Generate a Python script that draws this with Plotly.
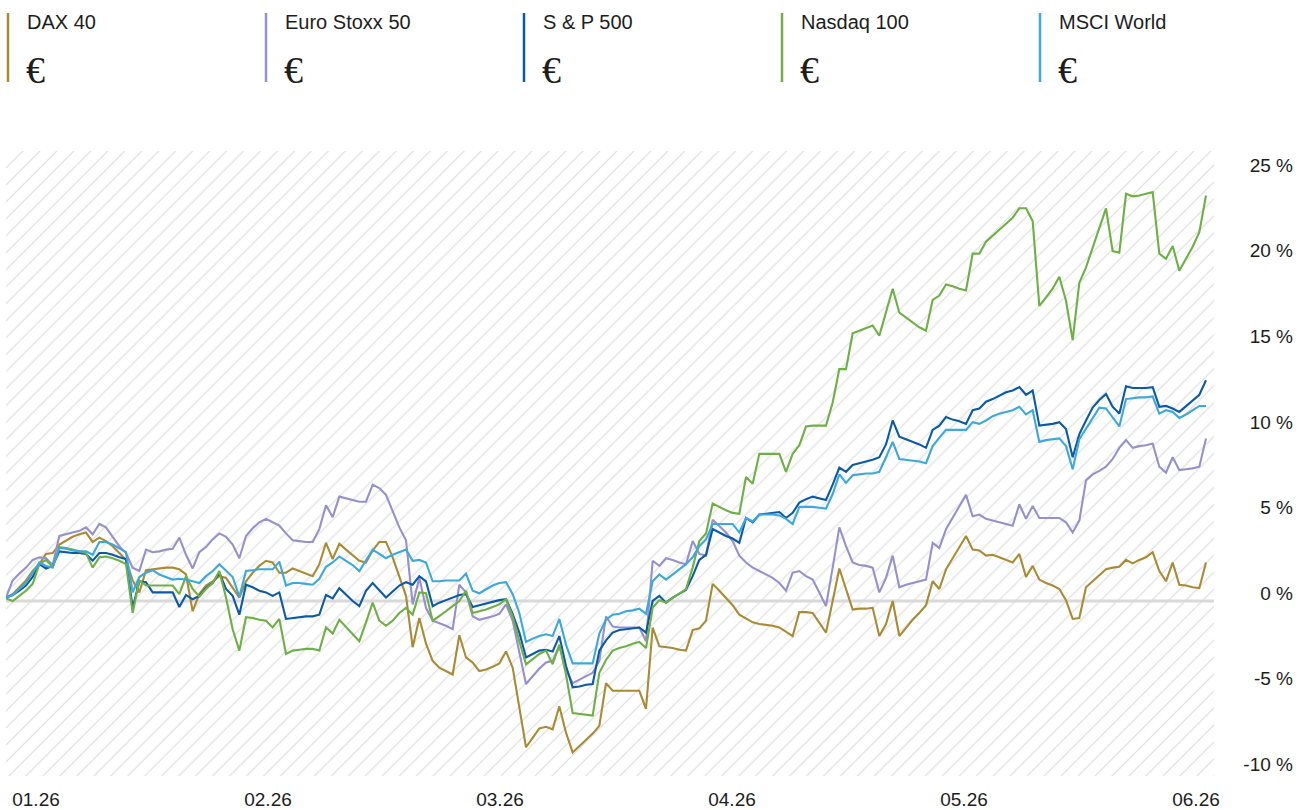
import plotly.graph_objects as go

# ---------------- data ----------------
names = ["DAX 40", "Euro Stoxx 50", "S & P 500", "Nasdaq 100", "MSCI World"]
colors = ["#a98b35", "#9691cd", "#0b5aa5", "#6eaf46", "#3ca8dc"]
currency = ["€", "€", "€", "€", "€"]

dax = [0.2, 0.4, 0.8, 1.2, 1.75, 2.15, 2.75, 2.8, 3.3, 3.55, 3.75, 3.9, 4.0, 3.45, 3.7, 3.5, 3.2, 2.8, 2.4, 1.2,
       0.5, 1.8, 1.85, 1.9, 1.95, 1.95, 1.85, 1.55, -0.6, 0.4, 0.9, 1.15, 1.45, 1.35, 0.8, 0.2, 1.15, 1.65, 2.05, 2.35,
       2.25, 1.65, 1.65, 1.9, 1.75, 1.6, 1.45, 2.15, 3.4, 2.45, 3.35, 3.0, 2.7, 2.35, 2.25, 2.95, 3.45, 3.45, 2.55, 1.4,
       0.3, -2.7, -1.0, -2.5, -3.5, -3.9, -4.1, -4.3, -2.0, -3.3, -3.6, -4.1, -4.0, -3.85, -3.65, -2.95, -3.9, -6.2, -8.55, -8.0,
       -7.45, -7.35, -7.5, -6.15, -7.7, -8.85, -8.5, -8.1, -7.75, -7.3, -4.8, -5.25, -5.25, -5.25, -5.25, -5.25, -6.3, -1.55, -2.65, -2.7,
       -2.75, -2.85, -2.9, -1.7, -1.6, -1.15, 1.0, 0.6, 0.15, -0.25, -0.8, -1.05, -1.25, -1.35, -1.4, -1.45, -1.55, -1.8, -2.05, -0.65,
       -0.65, -0.7, -1.25, -1.85, 0.0, 1.9, 0.7, -0.5, -0.45, -0.45, -0.4, -2.05, -1.35, 0.0, -2.05, -1.55, -1.1, -0.7, -0.25, 1.15,
       0.7, 1.85, 2.5, 3.15, 3.8, 3.0, 2.95, 2.65, 2.7, 2.55, 2.4, 2.25, 2.75, 1.4, 2.05, 1.25, 1.05, 0.9, 0.7, 0.05,
       -1.05, -1.0, 0.8, 1.15, 1.5, 1.85, 1.95, 2.0, 2.4, 2.2, 2.4, 2.55, 2.85, 1.75, 1.15, 2.25, 0.95, 0.9, 0.8, 0.75,
       2.25]

euro_stoxx = [0.2, 1.2, 1.6, 1.95, 2.4, 2.55, 2.5, 2.1, 3.8, 3.9, 4.0, 4.1, 4.3, 3.9, 4.5, 4.3, 3.75, 3.2, 2.8, 1.95,
              1.75, 3.0, 2.85, 2.9, 3.0, 3.05, 3.7, 2.7, 1.9, 2.85, 3.15, 3.6, 3.95, 3.75, 3.3, 2.5, 3.8, 4.25, 4.6, 4.8,
              4.6, 4.4, 3.95, 3.55, 3.5, 3.45, 3.45, 4.2, 5.6, 4.9, 6.1, 6.0, 5.9, 5.8, 5.8, 6.8, 6.6, 6.2, 5.25, 4.3,
              3.55, -0.2, 1.35, -0.4, -1.15, -1.3, -1.45, -1.65, 0.95, 0.5, -0.9, -1.1, -1.0, -0.9, -0.75, -0.2, -1.15, -3.1, -4.85, -4.4,
              -3.95, -3.6, -3.5, -2.65, -4.0, -4.8, -4.6, -4.4, -4.2, -3.5, -0.9, -1.5, -1.55, -1.55, -1.55, -1.55, -2.35, 2.35, 2.05, 2.5,
              2.4, 2.25, 2.15, 3.5, 2.75, 2.65, 4.75, 4.4, 4.0, 3.5, 2.65, 2.25, 1.95, 1.75, 1.55, 1.35, 1.05, 0.6, 1.65, 1.75,
              1.45, 1.25, 0.5, -0.3, 1.95, 4.3, 3.2, 2.25, 2.1, 2.05, 1.95, 0.5, 1.35, 2.65, 0.8, 0.95, 1.05, 1.15, 1.25, 3.4,
              3.1, 4.2, 4.85, 5.5, 6.2, 4.95, 5.05, 4.8, 4.7, 4.6, 4.5, 4.4, 5.65, 4.8, 5.55, 4.85, 4.85, 4.85, 4.85, 4.6,
              4.0, 4.7, 7.05, 7.4, 7.6, 7.85, 8.3, 8.95, 9.4, 8.95, 9.05, 9.1, 9.2, 7.85, 7.5, 8.4, 7.65, 7.7, 7.75, 7.85,
              9.5]

sp500 = [0.2, 0.35, 0.6, 0.9, 1.4, 2.15, 1.9, 2.05, 2.9, 2.85, 2.8, 2.8, 2.75, 2.35, 2.8, 2.8, 2.7, 2.55, 2.45, -0.4,
         1.15, 1.1, 0.5, 0.5, 0.5, 0.5, -0.35, 0.35, 0.1, 0.3, 0.75, 1.05, 1.65, 0.7, 0.3, -0.8, 0.95, 0.8, 0.6, 0.5,
         0.3, 0.5, -1.05, -1.0, -0.95, -0.9, -0.9, -0.8, 0.35, 0.15, 0.75, 0.35, 0.0, -0.3, 0.6, 1.05, 0.6, 0.2, 0.55, 0.9,
         1.1, 0.95, 1.45, 1.15, -0.3, -0.1, 0.05, 0.2, 0.35, 0.4, -0.35, -0.25, -0.15, -0.05, 0.05, 0.1, -0.75, -1.85, -3.3, -3.1,
         -2.9, -2.85, -2.95, -2.05, -3.8, -5.05, -5.0, -4.9, -4.85, -2.9, -2.3, -1.85, -1.7, -1.65, -1.6, -1.55, -1.85, 0.0, 0.3, -0.1,
         0.2, 0.45, 0.65, 1.45, 2.4, 2.7, 4.2, 4.0, 3.8, 3.65, 3.4, 4.85, 4.6, 5.05, 5.1, 5.15, 5.2, 4.85, 5.15, 5.75,
         5.95, 6.1, 6.0, 5.9, 6.8, 7.8, 7.55, 7.95, 8.05, 8.15, 8.25, 8.4, 9.15, 10.55, 9.6, 9.45, 9.3, 9.15, 8.95, 10.0,
         10.25, 10.75, 10.6, 10.5, 10.35, 11.15, 11.25, 11.65, 11.8, 12.0, 12.2, 12.3, 12.5, 12.05, 12.3, 10.25, 10.3, 10.35, 10.45, 10.05,
         8.4, 9.75, 10.55, 11.3, 11.75, 12.1, 11.35, 10.95, 12.55, 12.45, 12.45, 12.45, 12.5, 11.35, 11.4, 11.25, 11.05, 11.4, 11.75, 12.05,
         12.9]

nasdaq = [0.15, 0.0, 0.3, 0.6, 1.0, 2.15, 2.4, 2.0, 3.15, 3.1, 3.0, 2.9, 2.8, 1.95, 2.55, 2.6, 2.5, 2.35, 2.15, -0.7,
          1.2, 0.9, 0.9, 0.9, 0.9, 0.9, 0.4, 1.45, 0.7, 0.25, 0.7, 1.05, 1.75, 0.2, -1.65, -2.9, -0.95, -1.0, -1.1, -1.15,
          -1.55, -1.05, -3.1, -2.9, -2.85, -2.8, -2.8, -2.9, -1.55, -1.9, -1.1, -1.5, -1.95, -2.35, -1.25, -0.1, -1.15, -1.45, -1.15, -0.7,
          -0.4, -0.8, 0.5, 0.45, -1.15, -0.9, -0.6, -0.3, 0.0, 0.6, -0.7, -0.6, -0.5, -0.35, -0.2, 0.1, -0.9, -2.35, -3.7, -3.4,
          -3.1, -2.9, -3.7, -2.55, -4.3, -6.55, -6.6, -6.65, -6.7, -4.2, -3.45, -2.9, -2.75, -2.65, -2.5, -2.4, -2.75, -0.4, 0.05, -0.1,
          0.15, 0.4, 0.7, 1.95, 3.5, 3.95, 5.7, 5.5, 5.3, 5.15, 5.1, 7.25, 6.85, 8.6, 8.6, 8.6, 8.6, 7.55, 8.6, 9.1,
          10.2, 10.25, 10.25, 10.25, 11.6, 13.55, 13.55, 15.65, 15.8, 15.95, 16.1, 15.5, 16.85, 18.25, 16.85, 16.55, 16.25, 16.0, 15.8, 17.6,
          17.85, 18.5, 18.4, 18.25, 18.15, 20.3, 20.3, 21.0, 21.35, 21.7, 22.1, 22.4, 22.95, 22.95, 22.2, 17.25, 17.75, 18.25, 18.95, 17.55,
          15.25, 18.6, 19.5, 20.65, 21.85, 22.95, 20.45, 20.35, 23.8, 23.65, 23.7, 23.8, 23.9, 20.3, 20.0, 20.75, 19.3, 20.0, 20.7, 21.55,
          23.7]

msci_world = [0.2, 0.35, 0.7, 1.05, 1.65, 2.25, 2.05, 1.95, 3.1, 3.05, 2.95, 2.9, 2.9, 2.7, 3.45, 3.45, 3.3, 3.05, 2.85, 0.5,
              1.4, 1.65, 1.8, 1.55, 1.4, 1.25, 1.3, 1.25, 1.15, 1.05, 1.45, 1.75, 2.15, 1.75, 1.4, 0.25, 1.75, 1.8, 1.85, 1.85,
              1.85, 2.3, 0.9, 1.05, 1.05, 1.0, 0.95, 1.3, 2.0, 2.25, 2.6, 2.35, 2.1, 1.75, 2.4, 3.0, 2.75, 2.5, 2.7, 2.85,
              3.0, 2.35, 2.4, 2.25, 1.15, 1.15, 1.2, 1.2, 1.2, 1.6, 0.6, 0.45, 0.7, 0.9, 1.05, 1.1, 0.4, -0.7, -2.4, -2.2,
              -2.05, -1.95, -2.05, -1.05, -2.55, -3.65, -3.65, -3.65, -3.65, -1.9, -1.1, -0.8, -0.75, -0.6, -0.55, -0.45, -0.75, 1.15, 1.55, 1.25,
              1.55, 1.85, 2.15, 2.55, 3.2, 3.6, 4.5, 4.5, 4.5, 4.5, 4.0, 4.85, 4.65, 5.05, 5.05, 5.05, 5.0, 4.8, 4.5, 5.5,
              5.5, 5.5, 5.45, 5.4, 6.25, 7.4, 6.9, 7.35, 7.4, 7.45, 7.45, 7.55, 8.4, 9.3, 8.3, 8.25, 8.2, 8.15, 8.05, 9.05,
              9.55, 10.0, 10.0, 10.0, 10.0, 10.45, 10.35, 10.55, 10.8, 10.95, 11.05, 11.15, 11.35, 10.9, 11.15, 9.3, 9.4, 9.45, 9.5, 9.05,
              7.7, 9.45, 10.05, 10.7, 11.3, 11.25, 10.7, 10.2, 11.8, 11.85, 11.9, 11.9, 11.95, 10.95, 11.15, 11.05, 10.7, 10.9, 11.15, 11.4,
              11.4]

series = [dax, euro_stoxx, sp500, nasdaq, msci_world]
day = list(range(len(dax)))

tick_pos = [4.5, 39.3, 74.1, 108.9, 143.7, 178.5]
tick_text = ["01.26", "02.26", "03.26", "04.26", "05.26", "06.26"]
y_ticks = [-10, -5, 0, 5, 10, 15, 20, 25]
y_text = [f"{v} %" for v in y_ticks]

# ---------------- layout geometry ----------------
W, H = 1306, 810
L, R, T, B = 6, 13, 151, 34
PLOT_RIGHT = 1214
x_range = [0, 181.2]
y_range = [-10.23, 26.3]
FONT = "Liberation Sans"
TXT = "#1d1d1b"


def px(xp):
    return (xp - L) / (W - L - R)


def py(yp):
    return (H - B - yp) / (H - T - B)


fig = go.Figure()

# hatched plot background
fig.add_trace(go.Scatter(
    x=[x_range[0], x_range[1], x_range[1], x_range[0], x_range[0]],
    y=[y_range[0], y_range[0], y_range[1], y_range[1], y_range[0]],
    fill="toself", mode="lines", line=dict(width=0, color="rgba(0,0,0,0)"),
    fillcolor="white",
    fillpattern=dict(shape="/", fgcolor="#dedede", bgcolor="white", size=12, solidity=0.1),
    hoverinfo="skip", showlegend=False))

# zero line
fig.add_trace(go.Scatter(x=x_range, y=[0, 0], mode="lines",
                         line=dict(color="#d9d9d9", width=3),
                         hoverinfo="skip", showlegend=False))

for name, col, vals in zip(names, colors, series):
    fig.add_trace(go.Scatter(x=day, y=vals, mode="lines", name=name,
                             line=dict(color=col, width=2.1), showlegend=False))

# custom legend on top
for k, (name, col, cur) in enumerate(zip(names, colors, currency)):
    x0 = 8 + 258 * k
    fig.add_shape(type="line", xref="paper", yref="paper",
                  x0=px(x0), x1=px(x0), y0=py(13), y1=py(82),
                  line=dict(color=col, width=2.5))
    fig.add_annotation(xref="paper", yref="paper", x=px(x0 + 17), y=py(22),
                       text=name, showarrow=False, xanchor="left", yanchor="middle",
                       font=dict(family=FONT, size=20, color=TXT))
    fig.add_annotation(xref="paper", yref="paper", x=px(x0 + 16), y=py(70),
                       text=cur, showarrow=False, xanchor="left", yanchor="middle",
                       font=dict(family="Liberation Serif", size=38, color=TXT))

fig.update_layout(
    template="none",
    width=W, height=H,
    margin=dict(l=L, r=R, t=T, b=B, pad=0),
    paper_bgcolor="white", plot_bgcolor="white",
    showlegend=False,
    xaxis=dict(domain=[0, px(PLOT_RIGHT)], range=x_range, tickmode="array",
               tickvals=tick_pos, ticktext=tick_text, showgrid=False, zeroline=False,
               showline=False, ticks="", ticklabelstandoff=10,
               tickfont=dict(family=FONT, size=19, color=TXT), fixedrange=True),
    yaxis=dict(range=y_range, anchor="free", position=1, side="left", tickmode="array",
               tickvals=y_ticks, ticktext=y_text, showgrid=False, zeroline=False,
               showline=False, ticks="", ticklabelshift=-8, ticklabelstandoff=0,
               tickfont=dict(family=FONT, size=19, color=TXT), fixedrange=True),
)

fig.write_html("out.html", config={"displayModeBar": False},
               post_script="document.body.style.margin='0';")
